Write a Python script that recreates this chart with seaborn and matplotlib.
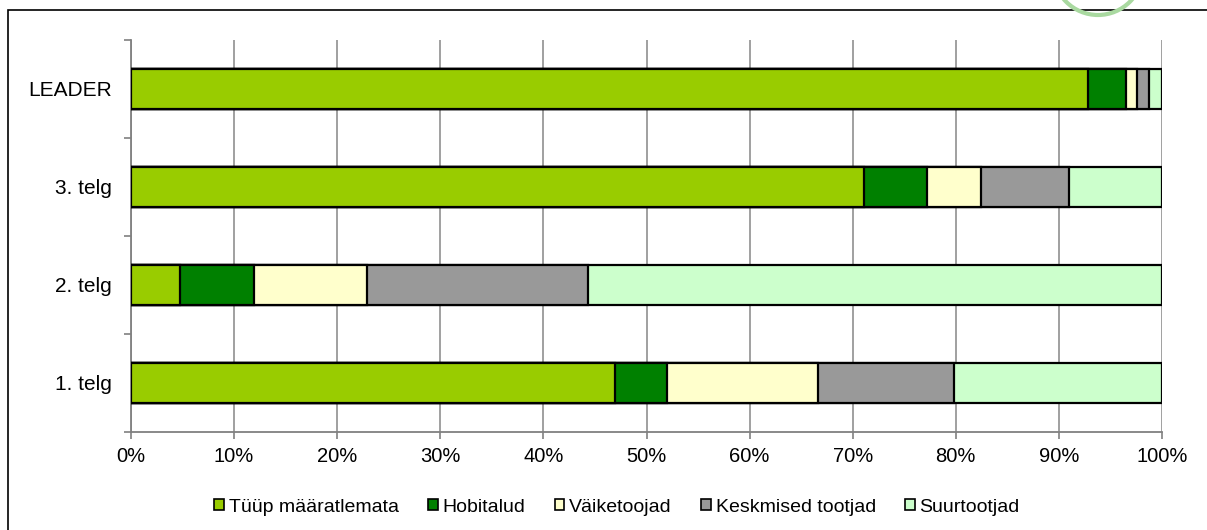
import matplotlib
matplotlib.use("Agg")
import matplotlib.pyplot as plt
import matplotlib.patches as mpatches
import seaborn as sns
import pandas as pd
import numpy as np

# data (percent shares)
categories = ["LEADER", "3. telg", "2. telg", "1. telg"]
series = ["Tüüp määratlemata", "Hobitalud", "Väiketoojad", "Keskmised tootjad", "Suurtootjad"]
tyyp = [92.8, 71.1, 4.8, 46.9]
hobi = [3.7, 6.1, 7.1, 5.1]
vaike = [1.1, 5.2, 11.0, 14.6]
keskmised = [1.1, 8.6, 21.4, 13.2]
suur = [1.3, 9.0, 55.7, 20.2]
colors = ["#99CC00", "#008000", "#FFFFCC", "#999999", "#CCFFCC"]
xticks = [0, 10, 20, 30, 40, 50, 60, 70, 80, 90, 100]

sns.set_style("white")
plt.rcParams["font.family"] = ["Liberation Sans", "DejaVu Sans"]
plt.rcParams["text.color"] = "black"
plt.rcParams["xtick.labelcolor"] = "black"
plt.rcParams["ytick.labelcolor"] = "black"

df = pd.DataFrame({"kat": categories})
vals = [tyyp, hobi, vaike, keskmised, suur]
cum = np.cumsum(np.array(vals), axis=0)
for name, c in zip(series, cum):
    df[name] = c

fig = plt.figure(figsize=(12.07, 5.30), dpi=100)
ax = fig.add_axes([131 / 1207, 1 - 432 / 530, 1031 / 1207, 392 / 530])

# stacked bars: draw cumulative totals from the widest down
for name, col in reversed(list(zip(series, colors))):
    sns.barplot(data=df, x=name, y="kat", order=categories, orient="h",
                color=col, edgecolor="black", linewidth=1.6, width=0.4,
                saturation=1, ax=ax, zorder=3)

ax.set_xlim(0, 100)
ax.set_ylim(3.5, -0.5)
ax.set_xticks(xticks)
ax.set_xticklabels([f"{t}%" for t in xticks], fontsize=14.5)
ax.set_xlabel("")
ax.set_ylabel("")
ax.set_yticks(range(len(categories)))
ax.set_yticklabels(categories, fontsize=15)
ax.set_yticks([-0.5, 0.5, 1.5, 2.5, 3.5], minor=True)
ax.tick_params(axis="y", which="major", left=True, length=0, pad=14)
ax.tick_params(axis="y", which="minor", left=True, length=5, color="#808080", width=1.2)
ax.tick_params(axis="x", bottom=True, length=5, color="#808080", width=1.2, pad=6)
ax.grid(axis="x", color="#999999", linewidth=1.3, zorder=0)
ax.set_axisbelow(True)
for s in ["top", "right"]:
    ax.spines[s].set_visible(False)
for s in ["left", "bottom"]:
    ax.spines[s].set_color("#808080")
    ax.spines[s].set_linewidth(1.3)

handles = [mpatches.Patch(facecolor=c, edgecolor="black", linewidth=1.2, label=n)
           for n, c in zip(series, colors)]
fig.legend(handles=handles, loc="center", bbox_to_anchor=(617 / 1207, 1 - 507 / 530),
           ncol=5, frameon=False, fontsize=14, handlelength=0.5, handleheight=0.5,
           handletextpad=0.25, columnspacing=1.5, borderpad=0)

# outer chart frame (cut off at right and bottom) and corner decoration
fig.patches.append(mpatches.Rectangle((8 / 1207, -0.1), 1.2, 1 - 10 / 530 + 0.1,
                                      transform=fig.transFigure, fill=False,
                                      edgecolor="black", linewidth=1.2))
fig.patches.append(mpatches.Ellipse((1098 / 1207, 1 + 30 / 530), 90 / 1207, 90 / 530,
                                    transform=fig.transFigure, fill=False,
                                    edgecolor="#a9d9a0", linewidth=3))

fig.savefig("out.png", dpi=100)
